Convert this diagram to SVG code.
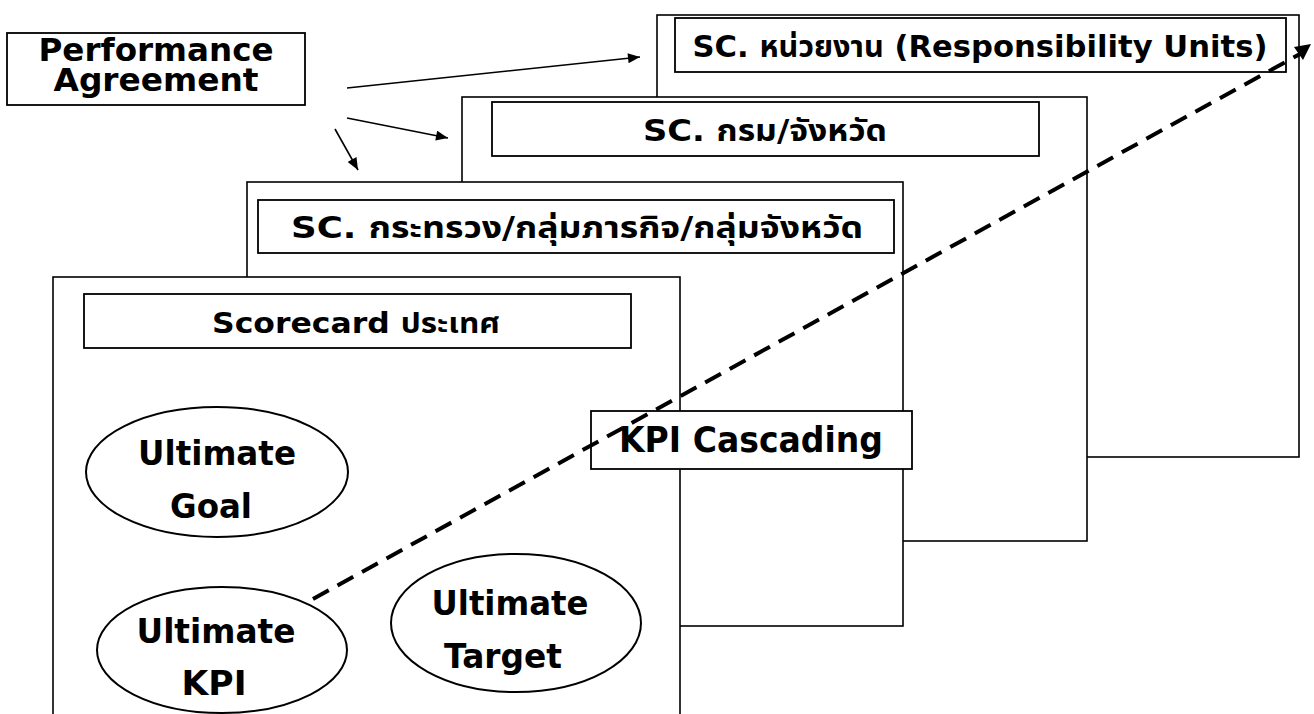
<svg xmlns="http://www.w3.org/2000/svg" width="1314" height="714" viewBox="0 0 1314 714">
<defs>
<style>
.panel{fill:#fff;stroke:#000;stroke-width:1.6}
.box{fill:#fff;stroke:#000;stroke-width:1.8}
.ell{fill:#fff;stroke:#000;stroke-width:2}
.t{font-family:"DejaVu Sans","Noto Sans Thai","Noto Sans","Noto Sans CJK SC",sans-serif;font-weight:bold;fill:#000;text-anchor:middle}
.conn{fill:none;stroke:#000;stroke-width:1.6}
.dash{fill:none;stroke:#000;stroke-width:4;stroke-dasharray:18 10}
</style>
<marker id="ah" viewBox="0 0 12 10" refX="12" refY="5" markerWidth="13" markerHeight="10" markerUnits="userSpaceOnUse" orient="auto">
<path d="M0,0 L12,5 L0,10 Z" fill="#000"/>
</marker>
</defs>
<rect width="1314" height="714" fill="#fff"/>

<g id="pa">
<rect class="box" x="7" y="33" width="298" height="72"/>
<text class="t" x="156" y="61" font-size="32" textLength="235" lengthAdjust="spacingAndGlyphs">Performance</text>
<text class="t" x="156" y="91" font-size="32" textLength="205" lengthAdjust="spacingAndGlyphs">Agreement</text>
</g>

<g id="panel-units">
<rect class="panel" x="657" y="15" width="642" height="442"/>
<rect class="box" x="675" y="18" width="611" height="54"/>
<text class="t" x="980" y="57" font-size="30" textLength="575" lengthAdjust="spacingAndGlyphs">SC. หน่วยงาน (Responsibility Units)</text>
</g>

<g id="panel-dept">
<rect class="panel" x="462" y="97" width="625" height="444"/>
<rect class="box" x="492" y="102" width="547" height="54"/>
<text class="t" x="765" y="141" font-size="30" textLength="244" lengthAdjust="spacingAndGlyphs">SC. กรม/จังหวัด</text>
</g>

<g id="panel-ministry">
<rect class="panel" x="247" y="182" width="656" height="444"/>
<rect class="box" x="258" y="200" width="636" height="53"/>
<text class="t" x="577" y="238" font-size="30" textLength="572" lengthAdjust="spacingAndGlyphs">SC. กระทรวง/กลุ่มภารกิจ/กลุ่มจังหวัด</text>
</g>

<g id="panel-country">
<rect class="panel" x="53" y="277" width="627" height="460"/>
<rect class="box" x="84" y="294" width="547" height="54"/>
<text class="t" x="356" y="333" font-size="29" textLength="288" lengthAdjust="spacingAndGlyphs">Scorecard ประเทศ</text>
</g>

<g id="goal">
<ellipse class="ell" cx="217" cy="472" rx="131" ry="65"/>
<text class="t" x="217" y="465" font-size="34" textLength="158" lengthAdjust="spacingAndGlyphs">Ultimate</text>
<text class="t" x="211" y="518" font-size="34" textLength="82" lengthAdjust="spacingAndGlyphs">Goal</text>
</g>

<g id="kpi">
<ellipse class="ell" cx="222" cy="650" rx="125" ry="63"/>
<text class="t" x="216" y="643" font-size="34" textLength="159" lengthAdjust="spacingAndGlyphs">Ultimate</text>
<text class="t" x="214" y="695" font-size="34" textLength="65" lengthAdjust="spacingAndGlyphs">KPI</text>
</g>

<g id="target">
<ellipse class="ell" cx="516" cy="623" rx="125" ry="69"/>
<text class="t" x="510" y="615" font-size="34" textLength="157" lengthAdjust="spacingAndGlyphs">Ultimate</text>
<text class="t" x="503" y="668" font-size="34" textLength="118" lengthAdjust="spacingAndGlyphs">Target</text>
</g>

<g id="cascade">
<rect class="box" x="591" y="411" width="321" height="58"/>
<text class="t" x="751" y="452" font-size="36" textLength="264" lengthAdjust="spacingAndGlyphs">KPI Cascading</text>
</g>

<g id="connectors">
<line class="conn" x1="347" y1="88" x2="640" y2="57" marker-end="url(#ah)"/>
<line class="conn" x1="347" y1="118" x2="448" y2="138" marker-end="url(#ah)"/>
<line class="conn" x1="335" y1="129" x2="358" y2="170" marker-end="url(#ah)"/>
<line class="dash" x1="313" y1="599" x2="1300" y2="54"/>
<path d="M1294,47 L1311,44 L1303,60 Z" fill="#000"/>
</g>
</svg>
